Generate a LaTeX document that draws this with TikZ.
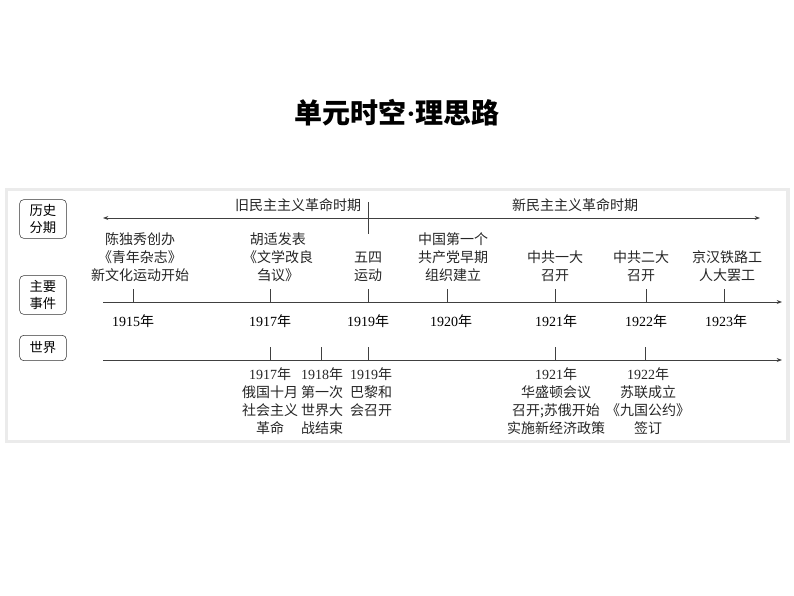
\documentclass[tikz,border=0pt]{standalone}
\usepackage{fontspec}
\setmainfont{Liberation Serif}
\newfontfamily\cjk{Noto Sans CJK SC}
\usetikzlibrary{arrows.meta}
\begin{document}
\begin{tikzpicture}[x=0.75pt,y=-0.75pt,
  txt/.style={font=\cjk\fontsize{10.5}{13.5}\selectfont,align=center,inner sep=0pt,text=black!85},
  yr/.style={font=\fontsize{10.5}{13}\selectfont,inner sep=0pt},
  lbl/.style={draw=black!80,rounded corners=3pt,font=\cjk\fontsize{10}{12.5}\selectfont,align=center,minimum width=35pt,inner sep=1pt},
  ax/.style={draw=black!75,line width=0.7pt},
  tk/.style={draw=black!75,line width=0.6pt},
  arr/.style={-{Stealth[length=4pt,width=3pt]}}]
\useasboundingbox (0,0) rectangle (794,596);
\fill[white] (0,0) rectangle (794,596);
\fill[black!8] (5,188) rectangle (790,443);
\fill[white] (8,191) rectangle (786,440);
\node[font=\cjk\bfseries\fontsize{21}{24}\selectfont] (title) at (397,113) {单元时空{\rmfamily\bfseries·}理思路};
% labels
\node[lbl,minimum height=29pt] (l1) at (43,219) {历史\\分期};
\node[lbl,minimum height=29pt] (l2) at (43,295) {主要\\事件};
\node[lbl,minimum height=19pt] (l3) at (43,348) {世界};
% period arrows
\coordinate (pl) at (103,218); \coordinate (pm) at (368,218); \coordinate (pr) at (760,218);
\draw[ax,arr] (pm) -- (pl);
\draw[ax,arr] (pm) -- (pr);
\coordinate (dt) at (368,202); \coordinate (db) at (368,234);
\draw[tk] (dt) -- (db);
\node[txt] (old) at (298,205) {旧民主主义革命时期};
\node[txt] (new) at (575,205) {新民主主义革命时期};
% main axis
\coordinate (a0) at (103,302); \coordinate (a1) at (782,302);
\draw[ax,arr] (a0) -- (a1);
\foreach \x/\n in {133/t1,270/t2,368/t3,447/t4,555/t5,646/t6,724/t7}{
  \coordinate (\n a) at (\x,289); \coordinate (\n b) at (\x,302);
  \draw[tk] (\n a) -- (\n b);}
\node[txt,anchor=south] (e1) at (140,282) {陈独秀创办\\《青年杂志》\\新文化运动开始};
\node[txt,anchor=south] (e2) at (278,282) {胡适发表\\《文学改良\\刍议》};
\node[txt,anchor=south] (e3) at (368,282) {五四\\运动};
\node[txt,anchor=south] (e4) at (453,282) {中国第一个\\共产党早期\\组织建立};
\node[txt,anchor=south] (e5) at (555,282) {中共一大\\召开};
\node[txt,anchor=south] (e6) at (641,282) {中共二大\\召开};
\node[txt,anchor=south] (e7) at (727,282) {京汉铁路工\\人大罢工};
\foreach \x/\y in {133/1915,270/1917,368/1919,451/1920,556/1921,646/1922,726/1923}
  \node[yr] (y\y) at (\x,321) {\y\cjk 年};
% world axis
\coordinate (w0) at (103,360); \coordinate (w1) at (782,360);
\draw[ax,arr] (w0) -- (w1);
\foreach \x/\n in {270/u1,321/u2,368/u3,555/u4,645/u5}{
  \coordinate (\n a) at (\x,347); \coordinate (\n b) at (\x,360);
  \draw[tk] (\n a) -- (\n b);}
\node[txt,anchor=north] (w17) at (270,367) {\rmfamily1917\cjk 年\\俄国十月\\社会主义\\革命};
\node[txt,anchor=north] (w18) at (322,367) {\rmfamily1918\cjk 年\\第一次\\世界大\\战结束};
\node[txt,anchor=north] (w19) at (371,367) {\rmfamily1919\cjk 年\\巴黎和\\会召开};
\node[txt,anchor=north] (w21) at (556,367) {\rmfamily1921\cjk 年\\华盛顿会议\\召开;苏俄开始\\实施新经济政策};
\node[txt,anchor=north] (w22) at (648,367) {\rmfamily1922\cjk 年\\苏联成立\\《九国公约》\\签订};
\end{tikzpicture}
\end{document}
